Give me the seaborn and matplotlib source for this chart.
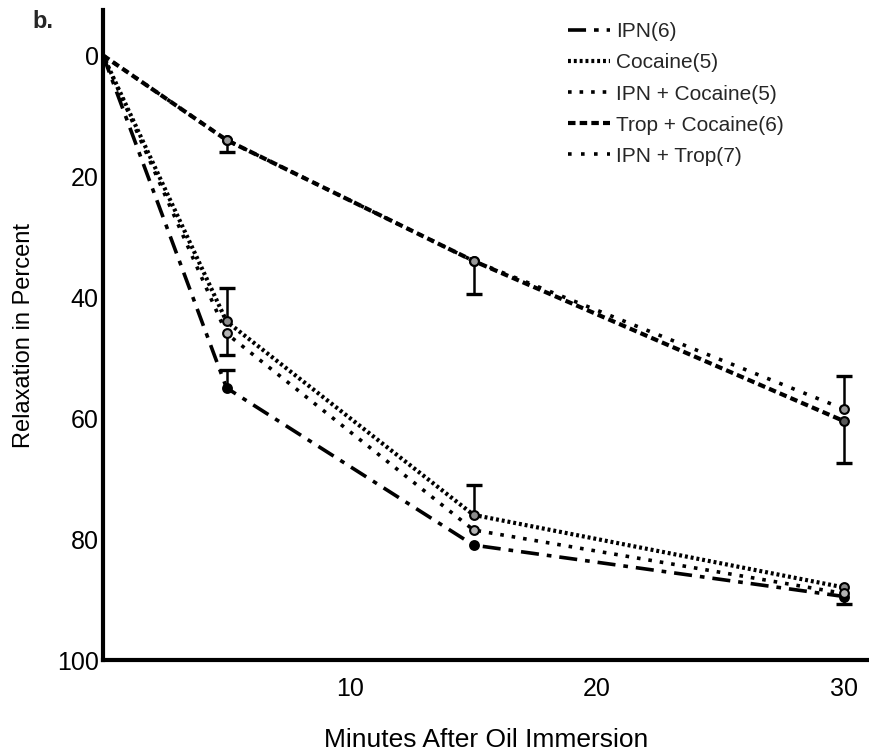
import matplotlib
matplotlib.use("Agg")
import matplotlib.pyplot as plt
import seaborn as sns
import pandas as pd
import numpy as np
from matplotlib.lines import Line2D

# ---- data ----
minutes = [0, 5, 15, 30]
series_names = ["IPN(6)", "Cocaine(5)", "IPN+Cocaine(5)", "Trop+Cocaine(6)", "IPN+Trop(7)"]
legend_labels = ["IPN(6)", "Cocaine(5)", "IPN + Cocaine(5)", "Trop + Cocaine(6)", "IPN + Trop(7)"]
ipn = [0, 55, 81, 89.5]
cocaine = [0, 44, 76, 88]
ipn_cocaine = [0, 46, 78.5, 89]
trop_cocaine = [0, 14, 34, 60.5]
ipn_trop = [0, 14, 34, 58.5]
# one-sided error bars (minus = toward smaller values, plus = toward larger values)
ipn_err_minus = [0, 3, 0, 0]
ipn_err_plus = [0, 0, 0, 1.2]
cocaine_err_minus = [0, 5.5, 5, 0]
cocaine_err_plus = [0, 0, 0, 0]
ipn_cocaine_err_minus = [0, 0, 0, 0]
ipn_cocaine_err_plus = [0, 3.6, 0, 0]
trop_cocaine_err_minus = [0, 0, 0, 0]
trop_cocaine_err_plus = [0, 2, 5.5, 7]
ipn_trop_err_minus = [0, 0, 0, 5.5]
ipn_trop_err_plus = [0, 0, 0, 0]

x_ticks = [5, 10, 15, 20, 25, 30]
x_ticklabels = ["", "10", "", "20", "", "30"]
y_ticks = [0, 10, 20, 30, 40, 50, 60, 70, 80, 90, 100]
y_ticklabels = ["0", "", "20", "", "40", "", "60", "", "80", "", "100"]

values = [ipn, cocaine, ipn_cocaine, trop_cocaine, ipn_trop]
err_minus = [ipn_err_minus, cocaine_err_minus, ipn_cocaine_err_minus, trop_cocaine_err_minus, ipn_trop_err_minus]
err_plus = [ipn_err_plus, cocaine_err_plus, ipn_cocaine_err_plus, trop_cocaine_err_plus, ipn_trop_err_plus]

df = pd.DataFrame({
    "minutes": np.tile(minutes, len(series_names)),
    "relax": np.concatenate(values),
    "series": np.repeat(series_names, len(minutes)),
})

sns.set_theme(style="white")
plt.rcParams["font.family"] = ["Liberation Sans", "DejaVu Sans"]

fig = plt.figure(figsize=(8.7, 7.55), dpi=100)
ax = fig.add_axes([103 / 870, 95 / 755, 1 - 103 / 870, (660 - 10) / 755])

styles = {
    "IPN(6)": dict(linestyle=(0, (5, 2.2, 1.3, 2.2)), linewidth=2.6),
    "Cocaine(5)": dict(linestyle=(0, (0.7, 0.7)), linewidth=3.0),
    "IPN+Cocaine(5)": dict(linestyle=(0, (1, 2.2)), linewidth=2.6),
    "Trop+Cocaine(6)": dict(linestyle=(0, (1.8, 1.0)), linewidth=3.0),
    "IPN+Trop(7)": dict(linestyle=(0, (1, 2.6)), linewidth=2.6),
}
faces = {
    "IPN(6)": "black",
    "Cocaine(5)": "0.55",
    "IPN+Cocaine(5)": "0.7",
    "Trop+Cocaine(6)": "0.35",
    "IPN+Trop(7)": "0.6",
}

for name in series_names:
    sub = df[df["series"] == name]
    sns.lineplot(data=sub, x="minutes", y="relax", ax=ax, color="black",
                 **styles[name], legend=False, zorder=3)
    pts = sub[sub["minutes"] > 0]
    sns.scatterplot(data=pts, x="minutes", y="relax", ax=ax, color=faces[name],
                    edgecolor="black", linewidth=1.5, s=40, zorder=4, legend=False)

# one-sided error bars: stem + single cap at the far end
for name, v, em, ep in zip(series_names, values, err_minus, err_plus):
    for i, m in enumerate(minutes):
        for e in (-em[i], ep[i]):
            if e != 0:
                ax.vlines(m, v[i], v[i] + e, color="black", linewidth=1.8, zorder=2)
                ax.plot([m], [v[i] + e], marker="_", markersize=11,
                        markeredgewidth=2.4, color="black", zorder=2)

ax.set_xlim(0, 31.05)
ax.set_ylim(100, -7.5)
ax.set_xticks(x_ticks)
ax.set_xticklabels(x_ticklabels)
ax.set_yticks(y_ticks)
ax.set_yticklabels(y_ticklabels)
ax.tick_params(axis="both", direction="in", length=10, width=3, color="black",
               labelsize=18, labelcolor="black")
ax.tick_params(axis="y", pad=3)
ax.tick_params(axis="x", pad=12)
for s in ["top", "right"]:
    ax.spines[s].set_visible(False)
for s in ["left", "bottom"]:
    ax.spines[s].set_linewidth(3)
    ax.spines[s].set_color("black")
ax.grid(False)

ax.set_xlabel("Minutes After Oil Immersion", fontsize=19, labelpad=20, color="black")
ax.set_ylabel("Relaxation in Percent", fontsize=17, labelpad=16, color="black")

fig.text(32 / 870, 1 - 21 / 755, "b.", fontsize=17, fontweight="bold", va="center", ha="left")

handles = [Line2D([0], [0], color="black", **styles[n]) for n in series_names]
ax.legend(handles, legend_labels, loc="upper left", bbox_to_anchor=(560 / 870, 1 - 14 / 755),
          bbox_transform=fig.transFigure, frameon=False, fontsize=15,
          handlelength=2.0, handletextpad=0.3, labelspacing=0.58, borderaxespad=0)

fig.savefig("out.png", dpi=100)
